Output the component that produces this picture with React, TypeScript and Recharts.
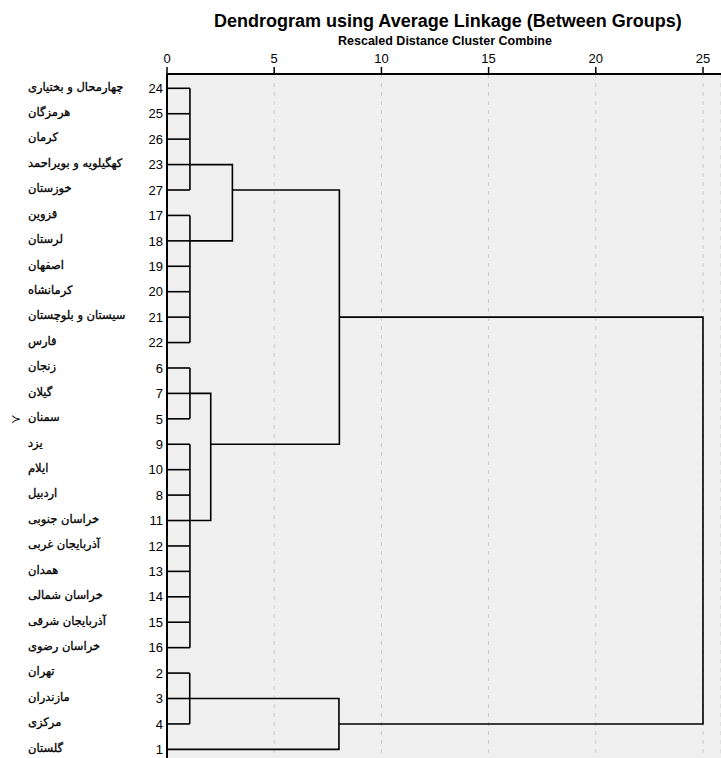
import React from 'react';
import { ScatterChart, Scatter, XAxis, YAxis, CartesianGrid } from 'recharts';

const caseNumbers = [24, 25, 26, 23, 27, 17, 18, 19, 20, 21, 22, 6, 7, 5, 9, 10, 8, 11, 12, 13, 14, 15, 16, 2, 3, 4, 1];
const regionNames = [
  'چهارمحال و بختیاری', 'هرمزگان', 'کرمان', 'کهگیلویه و بویراحمد', 'خوزستان',
  'قزوین', 'لرستان', 'اصفهان', 'کرمانشاه', 'سیستان و بلوچستان', 'فارس',
  'زنجان', 'گیلان', 'سمنان',
  'یزد', 'ایلام', 'اردبیل', 'خراسان جنوبی', 'آذربایجان غربی', 'همدان', 'خراسان شمالی', 'آذربایجان شرقی', 'خراسان رضوی',
  'تهران', 'مازندران', 'مرکزی', 'گلستان',
];
const xTicks = [0, 5, 10, 15, 20, 25];
const markedRow = 13;

// leaf clusters: consecutive rows joined at one distance
const leafGroups = [
  { first: 0, last: 4, height: 1.07 },
  { first: 5, last: 10, height: 1.07 },
  { first: 11, last: 13, height: 1.07 },
  { first: 14, last: 22, height: 1.07 },
  { first: 23, last: 25, height: 1.06 },
];
// higher merges: branch A (row, start distance), branch B (row, start distance), merge distance
const merges = [
  { rowA: 3, fromA: 1.07, rowB: 6, fromB: 1.07, height: 3.05 },
  { rowA: 12, fromA: 1.07, rowB: 17, fromB: 1.07, height: 2.04 },
  { rowA: 24, fromA: 1.06, rowB: 26, fromB: 0, height: 8.02 },
  { rowA: 4, fromA: 3.05, rowB: 14, fromB: 2.04, height: 8.04 },
  { rowA: 9, fromA: 8.04, rowB: 25, fromB: 8.02, height: 25 },
];

const segments: { x: number; y: number }[][] = [];
leafGroups.forEach((g) => {
  for (let r = g.first; r <= g.last; r++) {
    segments.push([{ x: 0, y: r }, { x: g.height, y: r }]);
  }
  segments.push([{ x: g.height, y: g.first }, { x: g.height, y: g.last }]);
});
merges.forEach((m) => {
  segments.push([
    { x: m.fromA, y: m.rowA },
    { x: m.height, y: m.rowA },
    { x: m.height, y: m.rowB },
    { x: m.fromB, y: m.rowB },
  ]);
});

const rowTicks = regionNames.map((_, i) => i);

const RowTick = (props: any) => {
  const { y, payload } = props;
  const i = payload.value;
  return (
    <g>
      <text x={163} y={y} dy="0.36em" textAnchor="end" fontSize={13} fontFamily="'Liberation Sans', Arial" fill="#000">
        {caseNumbers[i]}
      </text>
      <text x={28} y={y} dy="0.2em" textAnchor="start" fontSize={11.5} fontFamily="'DejaVu Sans'" fill="#000" stroke="#000" strokeWidth={0.3}>
        {regionNames[i]}
      </text>
      {i === markedRow ? (
        <text x={11} y={y} dy="0.35em" textAnchor="start" fontSize={12} fontFamily="'DejaVu Sans'" fill="#000">
          {'≻'}
        </text>
      ) : null}
    </g>
  );
};

const NoShape = () => <g />;

export default function App() {
  return (
    <div style={{ position: 'absolute', left: 0, top: 0, width: 721, height: 758, background: '#fff' }}>
      <div style={{ position: 'absolute', left: 0, width: 721, top: 10, paddingLeft: 214, boxSizing: 'border-box', fontFamily: "'Liberation Sans', Arial", fontWeight: 'bold', fontSize: 18, lineHeight: '22px', color: '#000', whiteSpace: 'nowrap' }}>
        Dendrogram using Average Linkage (Between Groups)
      </div>
      <div style={{ position: 'absolute', left: 0, width: 721, top: 34, paddingLeft: 338, boxSizing: 'border-box', fontFamily: "'Liberation Sans', Arial", fontWeight: 'bold', fontSize: 12.5, lineHeight: '15px', color: '#000', whiteSpace: 'nowrap' }}>
        Rescaled Distance Cluster Combine
      </div>
      <div style={{ position: 'absolute', left: 0, top: 0 }}>
        <ScatterChart width={721} height={758} margin={{ top: 44, right: 0, bottom: 0, left: 0 }}>
          <CartesianGrid horizontal={false} vertical strokeDasharray="4 5" stroke="#cccccc" fill="#f0f0f0" />
          <XAxis
            type="number"
            dataKey="x"
            orientation="top"
            domain={[0, 25.84]}
            allowDataOverflow
            ticks={xTicks}
            interval={0}
            height={30}
            tickSize={7}
            tickMargin={4}
            axisLine={{ stroke: '#000', strokeWidth: 2 }}
            tickLine={{ stroke: '#000', strokeWidth: 1.5 }}
            tick={{ fill: '#000', fontSize: 13, fontFamily: "'Liberation Sans', Arial" }}
          />
          <YAxis
            type="number"
            dataKey="y"
            domain={[-0.5625, 26.34]}
            allowDataOverflow
            reversed
            ticks={rowTicks}
            interval={0}
            width={167}
            tickLine={false}
            axisLine={{ stroke: '#000', strokeWidth: 2 }}
            tick={<RowTick />}
          />
          {segments.map((seg, k) => (
            <Scatter
              key={k}
              data={seg}
              line={{ stroke: '#000', strokeWidth: 1.6 }}
              lineType="joint"
              shape={NoShape}
              legendType="none"
              isAnimationActive={false}
            />
          ))}
        </ScatterChart>
      </div>
    </div>
  );
}
